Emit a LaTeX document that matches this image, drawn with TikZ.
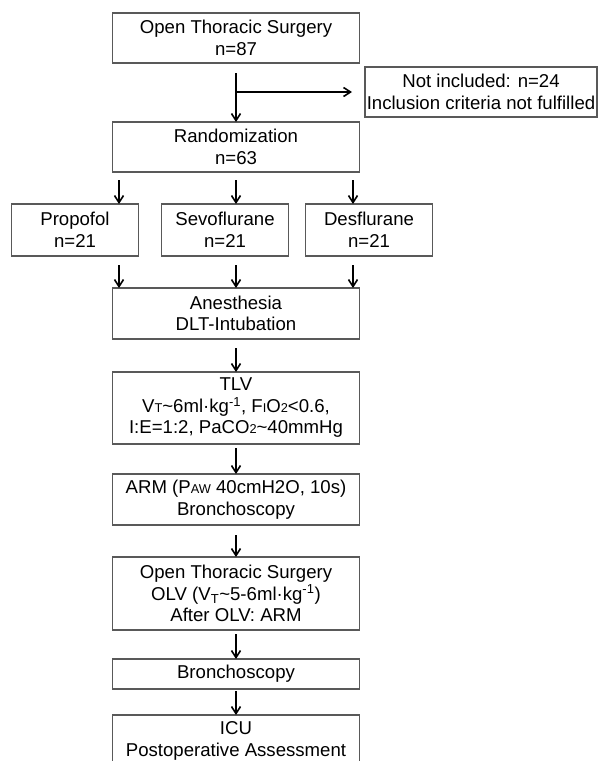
\documentclass[tikz,border=0pt]{standalone}
\usepackage{fontspec}
\setmainfont{Liberation Sans}
\usetikzlibrary{arrows.meta}
\newcommand*\boxline{1.2pt}
\newcommand*\sml[1]{{\fontsize{12.8}{12.8}\selectfont #1}}
\tikzset{
    box/.style     = {draw=black!65, line width=\boxline, fill=white,
                      align=center, inner sep=0pt, outer sep=0pt,
                      text=black, font=\fontsize{18.6}{21.5}\selectfont},
    mainbox/.style = {box, minimum width=247pt},
    armbox/.style  = {box, minimum width=127pt, minimum height=52pt},
    flow/.style    = {-{Straight Barb[length=7pt,width=9pt]},
                      line width=1.6pt, draw=black, shorten <=9pt},
  }

\begin{document}
\begin{tikzpicture}[x=1pt,y=-1pt]
      \clip (0,0) rectangle (600,761);

      % enrolment and exclusion
      \node[mainbox, minimum height=50pt] (open) at (236,38) {Open Thoracic Surgery\\n=87};
      \node[box, minimum width=232pt, minimum height=50pt] (excl) at (481,92)
        {Not included: n=24\\Inclusion criteria not fulfilled};
      \node[mainbox, minimum height=50pt] (rand) at (236,147) {Randomization\\n=63};

      % the three arms
      \node[armbox] (prop) at (75,230)  {Propofol\\n=21};
      \node[armbox] (sevo) at (225,230) {Sevoflurane\\n=21};
      \node[armbox] (des)  at (369,230) {Desflurane\\n=21};

      % common protocol
      \node[mainbox, minimum height=51pt] (anes) at (236,313.5) {Anesthesia\\DLT-Intubation};
      \node[mainbox, minimum height=72pt] (tlv) at (236,408)
        {TLV\\V\sml{T}\textasciitilde6ml·kg\textsuperscript{-1}, F\sml{I}O\sml{2}<0.6,\\I:E=1:2, PaCO\sml{2}\textasciitilde40mmHg};
      \node[mainbox, minimum height=51pt] (arm) at (236,499.5) {ARM (P\sml{AW} 40cmH2O, 10s)\\Bronchoscopy};
      \node[mainbox, minimum height=73pt] (olv) at (236,593.5)
        {Open Thoracic Surgery\\OLV (V\textsubscript{T}\textasciitilde5-6ml·kg\textsuperscript{-1})\\After OLV: ARM};
      \node[mainbox, minimum height=30pt] (bron) at (236,674) {Bronchoscopy};
      \node[mainbox, minimum height=52pt] (icu) at (236,741) {ICU\\Postoperative Assessment};

      % enrolment arrows
      \coordinate (branch) at (open.south |- excl.west);
      \draw[flow, shorten <=10pt] (open.south) -- (rand.north);
      \draw[flow, shorten <=0pt, shorten >=13pt] (branch) -- (excl.west);

      % arrows through the arms: left edge, centre and right edge of (anes)
      \coordinate (colA) at ([xshift=6.5pt]anes.north west);
      \coordinate (colB) at (anes.north);
      \coordinate (colC) at ([xshift=-6.5pt]anes.north east);
      \foreach \a/\c in {prop/colA, sevo/colB, des/colC} {
        \draw[flow, shorten <=8pt] (rand.south -| \c) -- (\a.north -| \c);
        \draw[flow] (\a.south -| \c) -- (\c);
      }

      % main column
      \foreach \f/\t/\g in {anes/tlv/9, tlv/arm/4, arm/olv/10, olv/bron/4, bron/icu/2} {
        \draw[flow, shorten <=\g pt] (\f) -- (\t);
      }
    \end{tikzpicture}
\end{document}
